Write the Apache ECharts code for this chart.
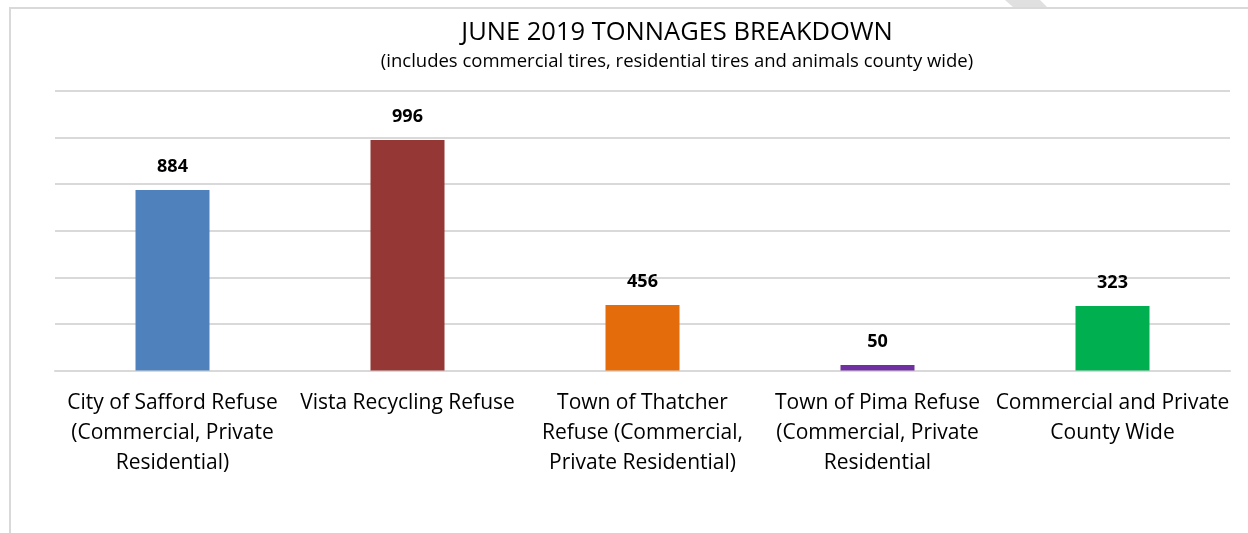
<!DOCTYPE html>
<html>
<head>
<meta charset="utf-8">
<script src="https://cdn.jsdelivr.net/npm/echarts@6/dist/echarts.min.js"></script>
<style>
html,body{margin:0;padding:0;background:#fff;}
#main{width:1248px;height:533px;}
</style>
</head>
<body>
<div id="main"></div>
<script>
// Categories (x axis labels)
const categories = [
  "City of Safford Refuse\n(Commercial, Private\nResidential)",
  "Vista Recycling Refuse",
  "Town of Thatcher\nRefuse (Commercial,\nPrivate Residential)",
  "Town of Pima Refuse\n(Commercial, Private\nResidential",
  "Commercial and Private\nCounty Wide"
];
// Tonnages shown as data labels
const tonnages = [884, 996, 456, 50, 323];
// Bar heights (grid step 200)
const barHeights = [775, 990, 281, 24, 277];
const barColors = ["#4F81BD", "#953735", "#E46C0A", "#7030A0", "#00B050"];
const titleText = "JUNE 2019 TONNAGES BREAKDOWN";
const subtitleText = "(includes commercial tires, residential tires and animals county wide)";

const chart = echarts.init(document.getElementById('main'));
const fontFam = '"Open Sans", Lato, sans-serif';
chart.setOption({
  animation: false,
  backgroundColor: '#fff',
  graphic: [
    { type: 'polygon', shape: { points: [[1005, 0], [1040, 0], [1047, 7], [1013, 7]] },
      style: { fill: '#e0e0e0' }, silent: true },
    { type: 'rect', shape: { x: 10, y: 8, width: 1260, height: 560 },
      style: { fill: 'none', stroke: '#d9d9d9', lineWidth: 2 }, silent: true },
    { type: 'text', x: 677, y: 33, style: { text: titleText, font: '25.5px ' + fontFam, fill: '#000', textAlign: 'center', textVerticalAlign: 'middle' } },
    { type: 'text', x: 677, y: 62, style: { text: subtitleText, font: '18.5px ' + fontFam, fill: '#000', textAlign: 'center', textVerticalAlign: 'middle' } }
  ],
  grid: { left: 55, right: 18, top: 91, bottom: 533 - 370.5, containLabel: false },
  xAxis: {
    type: 'category',
    data: categories,
    axisLine: { show: true, lineStyle: { color: '#d9d9d9', width: 2 } },
    axisTick: { show: false },
    axisLabel: { interval: 0, margin: 18, fontSize: 21, lineHeight: 30, color: '#000', fontFamily: fontFam, align: 'center' }
  },
  yAxis: {
    type: 'value', min: 0, max: 1200, interval: 200,
    axisLine: { show: false }, axisTick: { show: false }, axisLabel: { show: false },
    splitLine: { lineStyle: { color: '#d9d9d9', width: 2 } }
  },
  series: [{
    type: 'bar',
    barWidth: 74,
    data: barHeights.map((v, i) => ({ value: v, itemStyle: { color: barColors[i] } })),
    label: {
      show: true, position: 'top', distance: 14,
      formatter: p => String(tonnages[p.dataIndex]),
      fontSize: 18, fontWeight: 'bold', color: '#000', fontFamily: fontFam
    }
  }]
});
</script>
</body>
</html>
